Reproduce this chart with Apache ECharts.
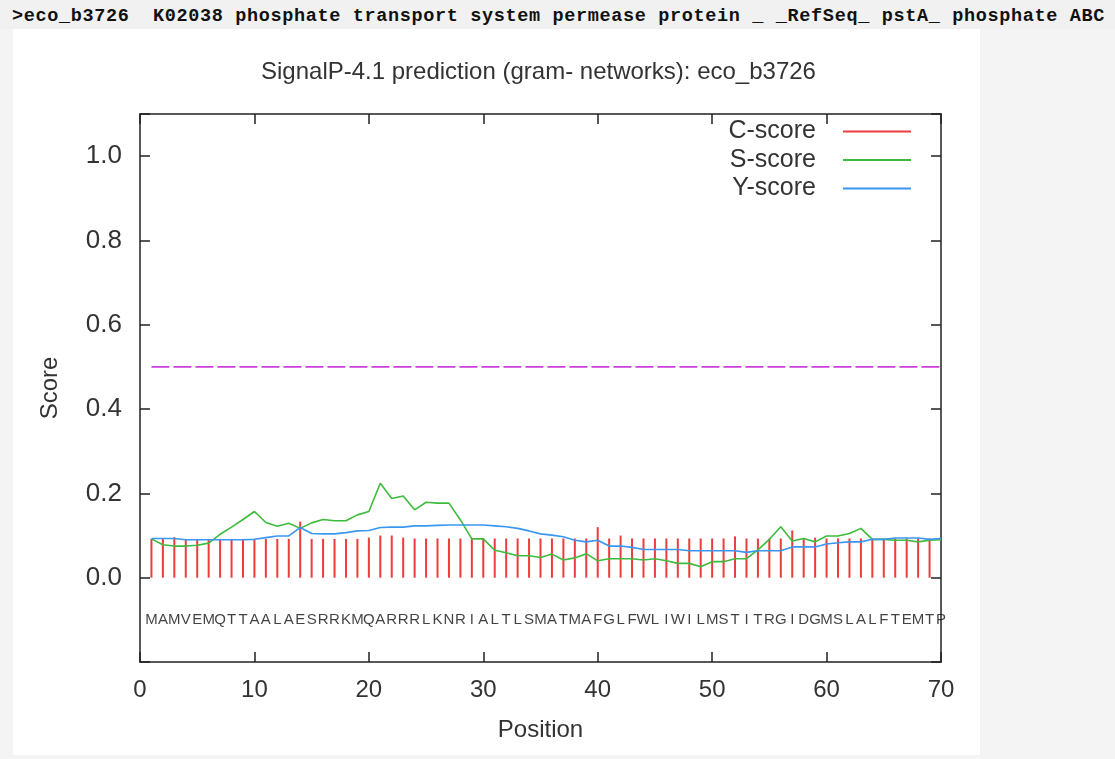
<!DOCTYPE html>
<html><head><meta charset="utf-8">
<script src="https://cdn.jsdelivr.net/npm/echarts@6/dist/echarts.min.js"></script>
<style>
html,body{margin:0;padding:0;width:1115px;height:759px;background:#f4f4f4;overflow:hidden}
#hdr{position:absolute;left:0;top:0;width:1115px;height:29px;background:#f1f1f1}
#hdr span{position:absolute;left:12px;top:7px;font:bold 18.5px 'Liberation Mono',monospace;line-height:20px;letter-spacing:0.65px;white-space:pre;color:#111}
#paper{position:absolute;left:13px;top:29px;width:967px;height:726px;background:#fff}
#chart{position:absolute;left:0;top:0;width:1115px;height:759px}
</style></head>
<body>
<div id="hdr"><span>&gt;eco_b3726  K02038 phosphate transport system permease protein _ _RefSeq_ pstA_ phosphate ABC</span></div>
<div id="paper"></div>
<div id="chart"></div>
<script>
const titleText = 'SignalP-4.1 prediction (gram- networks): eco_b3726';
const residues = ['M','A','M','V','E','M','Q','T','T','A','A','L','A','E','S','R','R','K','M','Q',
  'A','R','R','R','L','K','N','R','I','A','L','T','L','S','M','A','T','M','A','F',
  'G','L','F','W','L','I','W','I','L','M','S','T','I','T','R','G','I','D','G','M',
  'S','L','A','L','F','T','E','M','T','P'];
const cScore = [0.092,0.092,0.096,0.092,0.092,0.092,0.092,0.092,0.092,0.092,
  0.092,0.092,0.092,0.133,0.092,0.092,0.092,0.092,0.092,0.095,
  0.100,0.100,0.095,0.093,0.093,0.093,0.093,0.093,0.093,0.093,
  0.093,0.093,0.093,0.093,0.093,0.093,0.093,0.093,0.093,0.120,
  0.093,0.100,0.093,0.093,0.093,0.093,0.093,0.093,0.093,0.093,
  0.093,0.098,0.093,0.093,0.093,0.093,0.112,0.093,0.095,0.093,
  0.093,0.093,0.093,0.093,0.093,0.093,0.093,0.093,0.093];
const sScore = [0.092,0.078,0.075,0.075,0.077,0.082,0.103,0.120,0.138,0.157,
  0.131,0.122,0.129,0.117,0.130,0.138,0.135,0.135,0.149,0.157,
  0.224,0.188,0.194,0.161,0.179,0.177,0.177,0.137,0.092,0.092,
  0.065,0.059,0.052,0.052,0.048,0.056,0.042,0.047,0.057,0.040,
  0.045,0.045,0.045,0.042,0.045,0.040,0.034,0.034,0.026,0.038,
  0.038,0.045,0.045,0.066,0.091,0.121,0.087,0.093,0.085,0.099,
  0.099,0.105,0.117,0.091,0.091,0.089,0.089,0.085,0.089,0.090];
const yScore = [0.093,0.093,0.093,0.090,0.090,0.090,0.090,0.090,0.090,0.091,
  0.095,0.099,0.099,0.119,0.105,0.104,0.104,0.107,0.111,0.112,
  0.119,0.120,0.120,0.123,0.123,0.124,0.125,0.125,0.125,0.125,
  0.123,0.121,0.117,0.111,0.104,0.101,0.097,0.089,0.085,0.089,
  0.075,0.075,0.072,0.067,0.067,0.067,0.067,0.064,0.064,0.064,
  0.064,0.064,0.060,0.064,0.064,0.064,0.073,0.073,0.073,0.080,
  0.083,0.085,0.085,0.091,0.091,0.094,0.094,0.094,0.091,0.093];
const cutoff = 0.5;
const yTickLabels = ['0.0','0.2','0.4','0.6','0.8','1.0'];
const xTickLabels = ['0','10','20','30','40','50','60','70'];

const FONT = "'Liberation Sans', Arial, sans-serif";
const AX = '#222';
const toPts = arr => arr.map((v, i) => [i + 1, v]);

const chart = echarts.init(document.getElementById('chart'), null, {renderer: 'canvas'});
const yLab = v => {
  const idx = Math.round(v / 0.2);
  return (Math.abs(v - idx * 0.2) < 1e-6 && idx >= 0 && idx < yTickLabels.length) ? yTickLabels[idx] : '';
};
const xLab = v => {
  const idx = Math.round(v / 10);
  return (idx >= 0 && idx < xTickLabels.length) ? xTickLabels[idx] : '';
};
const axisCommon = {
  axisLine: {show: true, onZero: false, lineStyle: {color: AX, width: 1.5}},
  axisTick: {show: true, inside: true, length: 10, lineStyle: {color: AX, width: 1.5}},
  splitLine: {show: false}
};
const option = {
  animation: false,
  backgroundColor: 'transparent',
  title: {
    text: titleText, left: 261, top: 60, padding: 0,
    textStyle: {fontFamily: FONT, fontSize: 24, fontWeight: 'normal', color: '#333'}
  },
  legend: {
    data: ['C-score', 'S-score', 'Y-score'],
    orient: 'vertical', right: 204, top: 119, padding: 0,
    align: 'right', icon: 'rect', itemWidth: 68, itemHeight: 2, itemGap: 3.5,
    selectedMode: false,
    textStyle: {fontFamily: FONT, fontSize: 25, lineHeight: 25, color: '#333', padding: [0, 22, 0, 0]}
  },
  grid: {left: 140, right: 174, top: 114, bottom: 97, containLabel: false},
  xAxis: [
    Object.assign({}, axisCommon, {
      type: 'value', min: 0, max: 70, interval: 10, position: 'bottom',
      name: 'Position', nameLocation: 'middle', nameGap: 56,
      nameTextStyle: {fontFamily: FONT, fontSize: 24, color: '#333'},
      axisLabel: {show: true, margin: 16, fontFamily: FONT, fontSize: 24, color: '#333', formatter: xLab}
    }),
    Object.assign({}, axisCommon, {
      type: 'value', min: 0, max: 70, interval: 10, position: 'top',
      axisLabel: {show: false}
    })
  ],
  yAxis: [
    Object.assign({}, axisCommon, {
      type: 'value', min: -0.2, max: 1.1, interval: 0.2, position: 'left',
      name: 'Score', nameLocation: 'middle', nameGap: 78, nameRotate: 90,
      nameTextStyle: {fontFamily: FONT, fontSize: 24, color: '#333'},
      axisLabel: {show: true, margin: 18, fontFamily: FONT, fontSize: 26, color: '#333', formatter: yLab}
    }),
    Object.assign({}, axisCommon, {
      type: 'value', min: -0.2, max: 1.1, interval: 0.2, position: 'right',
      axisLabel: {show: false}
    })
  ],
  series: [
    {
      name: 'C-score', type: 'bar', xAxisIndex: 0, yAxisIndex: 0,
      data: toPts(cScore), barWidth: 2, itemStyle: {color: '#ee3b3b'}, z: 3
    },
    {
      name: 'S-score', type: 'line', xAxisIndex: 0, yAxisIndex: 0,
      data: toPts(sScore), showSymbol: false, symbol: 'none',
      lineStyle: {color: '#3dbb3d', width: 1.6}, itemStyle: {color: '#3dbb3d'}, z: 4
    },
    {
      name: 'Y-score', type: 'line', xAxisIndex: 0, yAxisIndex: 0,
      data: toPts(yScore), showSymbol: false, symbol: 'none',
      lineStyle: {color: '#3a96f0', width: 1.6}, itemStyle: {color: '#3a96f0'}, z: 5
    },
    {
      name: 'cutoff', type: 'line', xAxisIndex: 0, yAxisIndex: 0,
      data: [[1, cutoff], [70, cutoff]], showSymbol: false, symbol: 'none',
      lineStyle: {color: '#cc3fdd', width: 1.6, type: [18, 4]}, z: 3
    },
    {
      name: 'seq', type: 'scatter', xAxisIndex: 0, yAxisIndex: 0,
      data: residues.map((r, i) => [i + 1, -0.1, r]),
      symbolSize: 1, itemStyle: {color: 'rgba(0,0,0,0)'},
      label: {show: true, position: 'inside', formatter: p => p.data[2],
        fontFamily: FONT, fontSize: 15, color: '#111'},
      z: 6
    }
  ]
};
chart.setOption(option);
</script>
</body></html>
